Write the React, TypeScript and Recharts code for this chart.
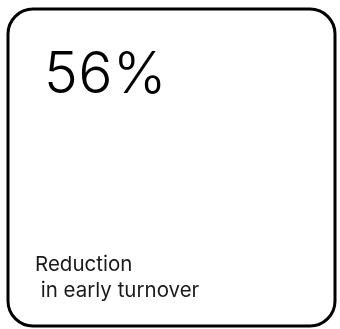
import { ComposedChart, Customized, Rectangle, Text } from "recharts";

const stat = [{ label: "Reduction in early turnover", value: 56 }];
const captionLines = ["Reduction", " in early turnover"];

const FONT = "Inter, 'Noto Sans', sans-serif";

function Card() {
  const { value } = stat[0];
  return (
    <g>
      <Rectangle x={8} y={9} width={327} height={317} radius={25} fill="#fff" stroke="#000" strokeWidth={3} />
      <Text x={44} y={93} fontSize={57} fontWeight={300} fontFamily={FONT} fill="#000" letterSpacing={0.5}>
        {`${value}%`}
      </Text>
      {captionLines.map((line, i) => (
        <Text
          key={i}
          x={35}
          y={271 + i * 26}
          fontSize={20.5}
          fontFamily={FONT}
          fill="#1a1a1a"
          style={{ whiteSpace: "pre" }}
        >
          {line}
        </Text>
      ))}
    </g>
  );
}

export default function App() {
  return (
    <div style={{ position: "fixed", left: 0, top: 0 }}>
      <ComposedChart width={340} height={329} data={stat} margin={{ top: 0, right: 0, bottom: 0, left: 0 }}>
        <Customized component={Card} />
      </ComposedChart>
    </div>
  );
}
